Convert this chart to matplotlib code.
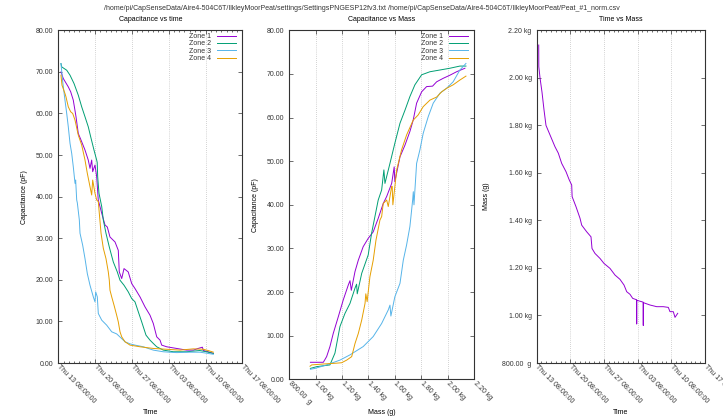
import datetime as dt

import matplotlib
matplotlib.use('Agg')
import matplotlib.pyplot as plt
import matplotlib.dates as mdates
import matplotlib.ticker as mticker
import numpy as np

plt.rcParams['font.family'] = ['Liberation Sans', 'DejaVu Sans']
plt.rcParams['font.size'] = 5

# ---- data (days since Thu 13 08:00) ----
zone1_days = [0.51, 0.95, 1.9, 2.36, 2.85, 3.37, 3.8, 4.45, 5.08, 5.7, 6.03, 6.35, 6.54, 6.98, 7.3, 7.6, 8.26,
              8.88, 9.32, 9.83, 10.79, 11.41, 11.6, 12.06, 12.5, 13.3, 13.96, 14.59, 15.54, 16.49, 17.44, 18.07,
              18.72, 19.35, 19.67, 20.62, 22.5, 24.4, 25.7, 26.6, 27.4, 27.6, 28.5, 29.5]
zone1_cap = [70.0, 68.4, 66.4, 65.2, 63.2, 59.2, 55.2, 53.2, 51.2, 48.8, 46.8, 48.8, 46.0, 47.6, 44.8, 39.2, 36.0,
             33.2, 32.7, 30.3, 29.1, 27.1, 21.9, 20.3, 22.7, 21.9, 19.1, 17.9, 15.9, 13.5, 11.5, 9.5,
             6.3, 5.5, 4.3, 3.9, 3.5, 3.1, 3.1, 3.5, 3.8, 3.0, 2.7, 2.3]

zone2_days = [0.51, 0.65, 1.6, 2.23, 2.99, 3.8, 4.45, 5.08, 5.7, 6.16, 6.79, 7.3, 7.4, 7.49, 7.74, 8.26, 8.56,
              9.07, 9.7, 10.46, 11.22, 11.74, 12.5, 13.31, 13.96, 14.59, 15.22, 15.86, 16.68, 17.44, 18.07,
              18.72, 19.97, 21.9, 24.4, 26.9, 28.2, 29.5]
zone2_cap = [72.0, 71.2, 70.4, 69.2, 67.2, 64.4, 61.6, 59.2, 56.8, 54.4, 51.2, 48.8, 48.2, 44.8, 40.8, 37.6, 34.4,
             31.2, 27.9, 24.3, 21.9, 19.9, 18.7, 17.1, 15.5, 14.7, 12.3, 9.9, 6.7, 5.5, 4.7,
             3.9, 3.1, 2.7, 2.7, 3.0, 2.7, 2.3]

zone3_days = [0.51, 0.84, 1.27, 1.6, 1.9, 2.23, 2.55, 2.85, 3.18, 3.3, 3.5, 3.62, 4.0, 4.13, 4.64, 5.08, 5.52,
              6.03, 6.66, 6.98, 7.11, 7.42, 7.61, 8.26, 9.2, 10.16, 11.1, 11.87, 12.69, 13.64, 14.59, 16.17,
              18.07, 19.97, 22.5, 25.05, 26.95, 28.5, 29.5]
zone3_cap = [72.0, 67.6, 63.2, 60.0, 56.8, 52.8, 50.4, 47.2, 43.2, 44.0, 39.2, 38.5, 34.4, 31.2, 28.3, 25.1, 21.5,
             18.7, 15.9, 14.7, 17.1, 15.9, 11.9, 10.3, 9.1, 7.5, 7.0, 6.1, 5.1, 4.6, 4.3, 3.9,
             3.1, 2.7, 2.5, 2.6, 2.6, 2.3, 2.1]

zone4_days = [0.51, 0.7, 1.27, 1.46, 1.9, 2.36, 2.74, 3.18, 3.8, 4.45, 5.08, 5.52, 6.03, 6.35, 6.54, 6.98, 7.3,
              7.61, 7.8, 8.13, 8.56, 9.07, 9.51, 9.7, 9.83, 10.16, 10.6, 11.1, 11.41, 11.74, 12.06, 12.69,
              13.64, 15.54, 18.07, 20.62, 23.15, 25.7, 27.6, 28.5, 29.5]
zone4_cap = [69.2, 66.8, 64.8, 64.0, 61.6, 60.4, 60.0, 58.4, 54.8, 52.4, 48.8, 45.6, 42.4, 40.4, 44.0, 40.8, 39.2,
             38.8, 36.0, 31.2, 27.6, 25.1, 21.9, 19.9, 17.5, 15.9, 13.9, 11.5, 9.9, 7.5, 6.3, 5.1,
             4.3, 3.9, 3.5, 3.3, 3.1, 3.4, 3.3, 3.0, 2.6]

# capacitance vs mass (kg)
zone1_mass = [0.96, 0.99, 1.058, 1.083, 1.108, 1.133, 1.171, 1.209, 1.247, 1.26, 1.27, 1.298, 1.323, 1.36, 1.398,
              1.436, 1.474, 1.512, 1.538, 1.576, 1.595, 1.60, 1.639, 1.677, 1.714, 1.739, 1.765, 1.803, 1.841,
              1.886, 1.917, 1.967, 2.017, 2.068, 2.131]
zone1_cap_m = [3.9, 3.9, 3.9, 5.2, 7.5, 10.5, 14.3, 18.2, 21.6, 22.6, 20.4, 24.7, 27.3, 30.4, 32.3,
               33.8, 36.9, 40.3, 41.9, 44.9, 48.7, 45.3, 51.0, 53.7, 56.8, 59.4, 63.3, 65.9, 67.1,
               67.2, 68.2, 69.0, 69.7, 70.5, 71.3]
zone2_mass = [0.96, 1.008, 1.108, 1.146, 1.184, 1.222, 1.26, 1.298, 1.31, 1.315, 1.349, 1.398, 1.424, 1.449, 1.474,
              1.5, 1.517, 1.525, 1.563, 1.6, 1.639, 1.677, 1.714, 1.752, 1.803, 1.866, 1.942, 2.017, 2.093, 2.139]
zone2_cap_m = [2.5, 2.9, 3.3, 6.0, 12.1, 15.1, 17.4, 20.9, 21.8, 19.6, 24.3, 28.5, 33.5, 37.3, 41.1,
               43.4, 48.0, 44.9, 49.5, 54.1, 58.7, 61.7, 64.8, 67.5, 69.8, 70.5, 70.9, 71.3, 71.8, 71.8]
zone3_mass = [0.96, 0.995, 1.083, 1.184, 1.26, 1.36, 1.436, 1.5, 1.55, 1.563, 1.57, 1.6, 1.639, 1.664, 1.689,
              1.714, 1.72, 1.735, 1.74, 1.745, 1.765, 1.79, 1.815, 1.853, 1.891, 1.942, 1.992, 2.042, 2.093, 2.139]
zone3_cap_m = [2.3, 2.5, 3.3, 4.4, 5.6, 7.5, 9.8, 12.8, 15.9, 17.0, 14.5, 18.9, 22.0, 27.3, 30.8,
               35.0, 36.7, 41.1, 43.0, 40.0, 49.5, 52.6, 56.4, 60.2, 63.3, 65.6, 66.7, 68.2, 70.9, 72.4]
zone4_mass = [0.957, 0.97, 1.055, 1.159, 1.197, 1.235, 1.273, 1.298, 1.323, 1.349, 1.374, 1.38, 1.39, 1.411,
              1.436, 1.457, 1.487, 1.5, 1.512, 1.538, 1.55, 1.576, 1.58, 1.585, 1.614, 1.651, 1.689, 1.739,
              1.777, 1.815, 1.866, 1.917, 1.955, 1.992, 2.042, 2.093, 2.139]
zone4_cap_m = [3.0, 3.3, 3.5, 3.7, 3.8, 4.4, 5.2, 8.2, 10.5, 13.6, 17.4, 19.6, 17.8, 23.5,
               27.3, 31.9, 36.5, 37.3, 40.3, 41.1, 39.6, 44.2, 44.2, 40.0, 48.0, 52.6, 56.0, 59.4,
               60.6, 62.5, 64.0, 64.7, 65.9, 66.7, 67.5, 68.6, 69.5]

# mass vs time
mass_days = [0.46, 0.48, 0.73, 1.14, 1.56, 1.97, 2.80, 3.84, 4.53, 5.23, 6.13, 6.81, 7.31, 7.40, 8.20, 9.04, 9.39,
             10.43, 11.32, 11.53, 12.15, 13.19, 14.02, 15.27, 16.31, 17.34, 18.18, 18.74, 19.42, 19.98, 20.80,
             20.81, 20.82, 22.17, 22.18, 22.19, 23.58, 24.97, 26.34, 27.38, 27.73, 28.42, 28.77, 29.33]
mass_kg = [2.138, 2.047, 2.0, 1.94, 1.865, 1.80, 1.76, 1.71, 1.683, 1.64, 1.605, 1.57, 1.549, 1.50, 1.458, 1.409,
           1.38, 1.352, 1.331, 1.282, 1.261, 1.240, 1.219, 1.198, 1.170, 1.152, 1.128, 1.10, 1.089, 1.072, 1.066,
           0.964, 1.064, 1.056, 0.958, 1.054, 1.044, 1.037, 1.037, 1.034, 1.016, 1.016, 0.992, 1.009]

zone_names = ['Zone 1', 'Zone 2', 'Zone 3', 'Zone 4']
colors = ['#9400d3', '#009e73', '#56b4e9', '#e69f00']

start = dt.datetime(2020, 8, 13, 8, 0)
t0 = mdates.date2num(start)


def to_dates(days):
    return t0 + np.asarray(days)


def style(ax):
    for s in ax.spines.values():
        s.set_color('#333333')
        s.set_linewidth(0.8)
    ax.tick_params(which='both', direction='in', top=True, right=True, colors='#333333',
                   labelcolor='#333333', width=0.5, labelsize=5)
    ax.tick_params(which='major', length=3)
    ax.tick_params(which='minor', length=1.5)
    ax.tick_params(axis='y', pad=3.5)
    ax.tick_params(axis='x', pad=2)
    ax.grid(axis='x', which='major', linestyle=(0, (1, 2)), color='#aaaaaa', linewidth=0.5)


def rotate_labels(ax):
    for lab in ax.get_xticklabels():
        lab.set_rotation(-45)
        lab.set_ha('left')
        lab.set_va('center')
        lab.set_rotation_mode('anchor')


def time_axis(ax):
    ax.set_xlim(t0, t0 + 35)
    ax.xaxis.set_major_locator(mticker.FixedLocator(t0 + np.arange(0, 36, 7)))
    ax.xaxis.set_minor_locator(mticker.FixedLocator(t0 + np.arange(0, 36, 1)))
    ax.xaxis.set_major_formatter(mdates.DateFormatter('%a %d %H:%M:%S'))
    rotate_labels(ax)


def kg_fmt(v, pos):
    if v < 0.999:
        return f'{v * 1000:.2f}  g'
    return f'{v:.2f} kg'


fig = plt.figure(figsize=(7.23, 4.18), dpi=100)
W, H = 723.0, 418.0

ax1 = fig.add_axes([58.3 / W, (H - 363) / H, 184 / W, 332.7 / H])
ax2 = fig.add_axes([289.3 / W, (H - 379.3) / H, 184.7 / W, 349 / H])
ax3 = fig.add_axes([536.5 / W, (H - 363) / H, 168.5 / W, 332.7 / H])

days_list = [zone1_days, zone2_days, zone3_days, zone4_days]
cap_list = [zone1_cap, zone2_cap, zone3_cap, zone4_cap]
mass_list = [zone1_mass, zone2_mass, zone3_mass, zone4_mass]
capm_list = [zone1_cap_m, zone2_cap_m, zone3_cap_m, zone4_cap_m]

# panel 1: capacitance vs time
for d, c, name, col in zip(days_list, cap_list, zone_names, colors):
    ax1.plot(to_dates(d), c, color=col, lw=0.7, label=name)
ax1.set_ylim(0, 80)
ax1.yaxis.set_major_locator(mticker.MultipleLocator(10))
ax1.yaxis.set_major_formatter(mticker.FormatStrFormatter('%.2f'))
style(ax1)
time_axis(ax1)
ax1.set_xlabel('Time', fontsize=5)
ax1.xaxis.set_label_coords(0.5, -0.137)
ax1.set_ylabel('Capacitance (pF)', fontsize=5)
ax1.yaxis.set_label_coords(-0.165, 0.5)
ax1.text(0.5, 1 + 11 / 332.7, 'Capacitance vs time', transform=ax1.transAxes, ha='center', va='center', fontsize=5)

# panel 2: capacitance vs mass
for m, c, name, col in zip(mass_list, capm_list, zone_names, colors):
    ax2.plot(m, c, color=col, lw=0.7, label=name)
ax2.set_xlim(0.8, 2.2)
ax2.set_ylim(0, 80)
ax2.xaxis.set_major_locator(mticker.FixedLocator(np.round(np.arange(0.8, 2.21, 0.2), 2)))
ax2.xaxis.set_major_formatter(mticker.FuncFormatter(kg_fmt))
ax2.yaxis.set_major_locator(mticker.MultipleLocator(10))
ax2.yaxis.set_major_formatter(mticker.FormatStrFormatter('%.2f'))
style(ax2)
rotate_labels(ax2)
ax2.set_xlabel('Mass (g)', fontsize=5)
ax2.xaxis.set_label_coords(0.5, -0.084)
ax2.set_ylabel('Capacitance (pF)', fontsize=5)
ax2.yaxis.set_label_coords(-0.164, 0.5)
ax2.text(0.5, 1 + 11 / 349, 'Capacitance vs Mass', transform=ax2.transAxes, ha='center', va='center', fontsize=5)

# panel 3: mass vs time
ax3.plot(to_dates(mass_days), mass_kg, color=colors[0], lw=0.7)
ax3.set_ylim(0.8, 2.2)
ax3.yaxis.set_major_locator(mticker.FixedLocator(np.round(np.arange(0.8, 2.21, 0.2), 2)))
ax3.yaxis.set_major_formatter(mticker.FuncFormatter(kg_fmt))
style(ax3)
time_axis(ax3)
ax3.set_xlabel('Time', fontsize=5)
ax3.xaxis.set_label_coords(0.5, -0.137)
ax3.set_ylabel('Mass (g)', fontsize=5)
ax3.yaxis.set_label_coords(-0.276, 0.5)
ax3.text(0.5, 1 + 11 / 332.7, 'Time vs Mass', transform=ax3.transAxes, ha='center', va='center', fontsize=5)

for ax, xr in ((ax1, (236 - 58.3) / 184), (ax2, (468 - 289.3) / 184.7)):
    leg = ax.legend(loc='upper right', bbox_to_anchor=(xr, 0.992), markerfirst=False, frameon=False,
                    handlelength=2.7, handletextpad=0.9, labelspacing=0.05, borderpad=0, borderaxespad=0,
                    fontsize=5)
    for t in leg.get_texts():
        t.set_color('#333333')

fig.text(0.5, 1 - 8 / H,
         '/home/pi/CapSenseData/Aire4-504C6T/IlkleyMoorPeat/settings/SettingsPNGESP12fv3.txt '
         '/home/pi/CapSenseData/Aire4-504C6T/IlkleyMoorPeat/Peat_#1_norm.csv',
         ha='center', va='center', fontsize=5, color='#333333')

fig.savefig('out.png', dpi=100)
